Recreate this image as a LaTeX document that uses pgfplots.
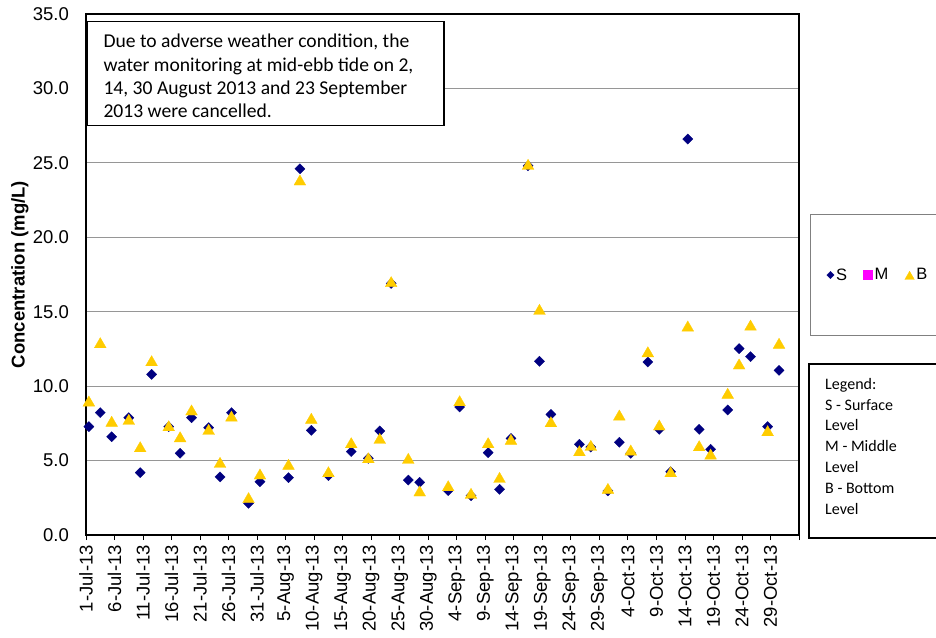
\documentclass[border=0pt]{standalone}
\usepackage{fontspec}
\setmainfont{Liberation Sans}
\newfontfamily\calibri{Carlito}
\usepackage{pgfplots}
\usepackage{pgfplotstable}
\pgfplotsset{compat=1.18}
\definecolor{sNavy}{RGB}{0,0,128}
\definecolor{bGold}{RGB}{255,204,0}
\definecolor{mMag}{RGB}{255,0,255}
\definecolor{gridgray}{RGB}{150,150,150}

\pgfplotsset{
  legS/.style={legend image code/.code={\draw[mark repeat=2, mark phase=2, ##1, mark size=2.6pt] plot coordinates {(0pt,0pt) (4pt,0pt) (10pt,0pt)};}},
  legM/.style={legend image code/.code={\draw[mark repeat=2, mark phase=2, ##1] plot coordinates {(0pt,0pt) (4pt,0pt) (10pt,0pt)};}},
  legB/.style={legend image code/.code={\draw[mark repeat=2, mark phase=2, ##1, mark size=5.5pt] plot coordinates {(0pt,0pt) (4pt,0pt) (10pt,0pt)};}},
}

% x = day since 1-Jul-2013 + 0.5 (points centred on their day)
\pgfplotstableread{
x     S      B
0.5   7.28   9.00
2.5   8.22   12.92
4.5   6.60   7.64
7.5   7.88   7.77
9.5   4.19   5.93
11.5  10.79  11.71
14.5  7.28   7.34
16.5  5.49   6.60
18.5  7.88   8.40
21.5  7.21   7.10
23.5  3.90   4.88
25.5  8.22   7.99
28.5  2.13   2.51
30.5  3.58   4.10
35.5  3.85   4.75
37.5  24.60  23.85
39.5  7.03   7.84
42.5  3.99   4.25
46.5  5.60   6.20
49.5  5.15   5.19
51.5  6.99   6.49
53.5  16.90  17.02
56.5  3.69   5.15
58.5  3.54   2.96
63.5  2.98   3.31
65.5  8.60   9.02
67.5  2.64   2.80
70.5  5.53   6.20
72.5  3.07   3.87
74.5  6.49   6.43
77.5  24.80  24.90
79.5  11.67  15.16
81.5  8.10   7.61
86.5  6.09   5.66
88.5  5.91   6.02
91.5  2.96   3.13
93.5  6.23   8.06
95.5  5.49   5.71
98.5  11.62  12.31
100.5 7.10   7.39
102.5 4.25   4.25
105.5 26.60  14.04
107.5 7.10   6.00
109.5 5.76   5.44
112.5 8.40   9.52
114.5 12.52  11.49
116.5 11.98  14.10
119.5 7.28   7.01
121.5 11.06  12.88
}\datatable

\begin{document}
\begin{tikzpicture}
\useasboundingbox (0,0) rectangle (936pt,637pt);
\begin{axis}[
  at={(86pt,102pt)}, anchor=south west,
  scale only axis, width=713pt, height=521pt,
  xmin=0, xmax=125, ymin=0, ymax=35,
  xtick={0,5,...,125},
  xticklabels={1-Jul-13,6-Jul-13,11-Jul-13,16-Jul-13,21-Jul-13,26-Jul-13,31-Jul-13,5-Aug-13,10-Aug-13,15-Aug-13,20-Aug-13,25-Aug-13,30-Aug-13,4-Sep-13,9-Sep-13,14-Sep-13,19-Sep-13,24-Sep-13,29-Sep-13,4-Oct-13,9-Oct-13,14-Oct-13,19-Oct-13,24-Oct-13,29-Oct-13,{}},
  ytick={0,5,...,35},
  ymajorgrids, grid style={gridgray, line width=1.2pt},
  axis line style={black, line width=2pt},
  xtick pos=lower, ytick pos=left,
  tick align=outside, major tick length=5pt,
  ytick style={draw=none},
  xtick style={black, line width=0.8pt},
  x tick label style={yshift=-5pt, rotate=90, anchor=east, inner sep=0pt, font=\fontsize{18.5}{20}\selectfont},
  y tick label style={xshift=-12pt, anchor=east, inner sep=0pt, font=\fontsize{18.5}{20}\selectfont},
  yticklabel style={/pgf/number format/.cd, fixed, fixed zerofill, precision=1},
  /pgf/number format/assume math mode=true,
  ylabel={Concentration (mg/L)},
  every axis y label/.style={at={(axis description cs:-0.0926,0.5)}, anchor=center, rotate=90, font=\bfseries\fontsize{18.5}{20}\selectfont},
  legend columns=3,
  legend style={at={(axis description cs:1.0154,0.499)}, anchor=west, draw=gray, line width=1.5pt,
    inner xsep=16pt, inner ysep=52pt, font=\fontsize{16.5}{18}\selectfont,
    /tikz/every even column/.append style={column sep=14.5pt}},
]
\addplot[only marks, mark=square*, mark size=3.6pt, mark options={rotate=45, fill=sNavy, draw=sNavy, line width=0.3pt}, legS]
  table[x=x, y=S] {\datatable};
\addlegendentry{S}
\addlegendimage{only marks, mark=square*, mark size=4.5pt, mark options={fill=mMag, draw=mMag, line width=0.3pt}, legM}
\addlegendentry{M}
\addplot[only marks, mark=triangle*, mark size=6.8pt, mark options={yshift=-1.7pt, fill=bGold, draw=bGold, line width=0.3pt}, legB]
  table[x=x, y=B] {\datatable};
\addlegendentry{B}
\end{axis}
% note box
\draw[black, line width=1.3pt, fill=white] (87pt,615.3pt) rectangle (444pt,511.7pt);
\node[anchor=north west, align=left, inner sep=0pt, font=\calibri\fontsize{19.6}{23.3}\selectfont]
  at (103.3pt,603pt) {Due to adverse weather condition, the\\water monitoring at mid-ebb tide on 2,\\14, 30 August 2013 and 23 September\\2013 were cancelled.};
% level legend box
\draw[black, line width=1.5pt] (809pt,273pt) rectangle (960pt,99pt);
\node[anchor=north west, align=left, inner sep=0pt, font=\calibri\fontsize{16}{20.8}\selectfont]
  at (825pt,259pt) {Legend:\\S - Surface\\Level\\M - Middle\\Level\\B - Bottom\\Level};
\end{tikzpicture}
\end{document}
